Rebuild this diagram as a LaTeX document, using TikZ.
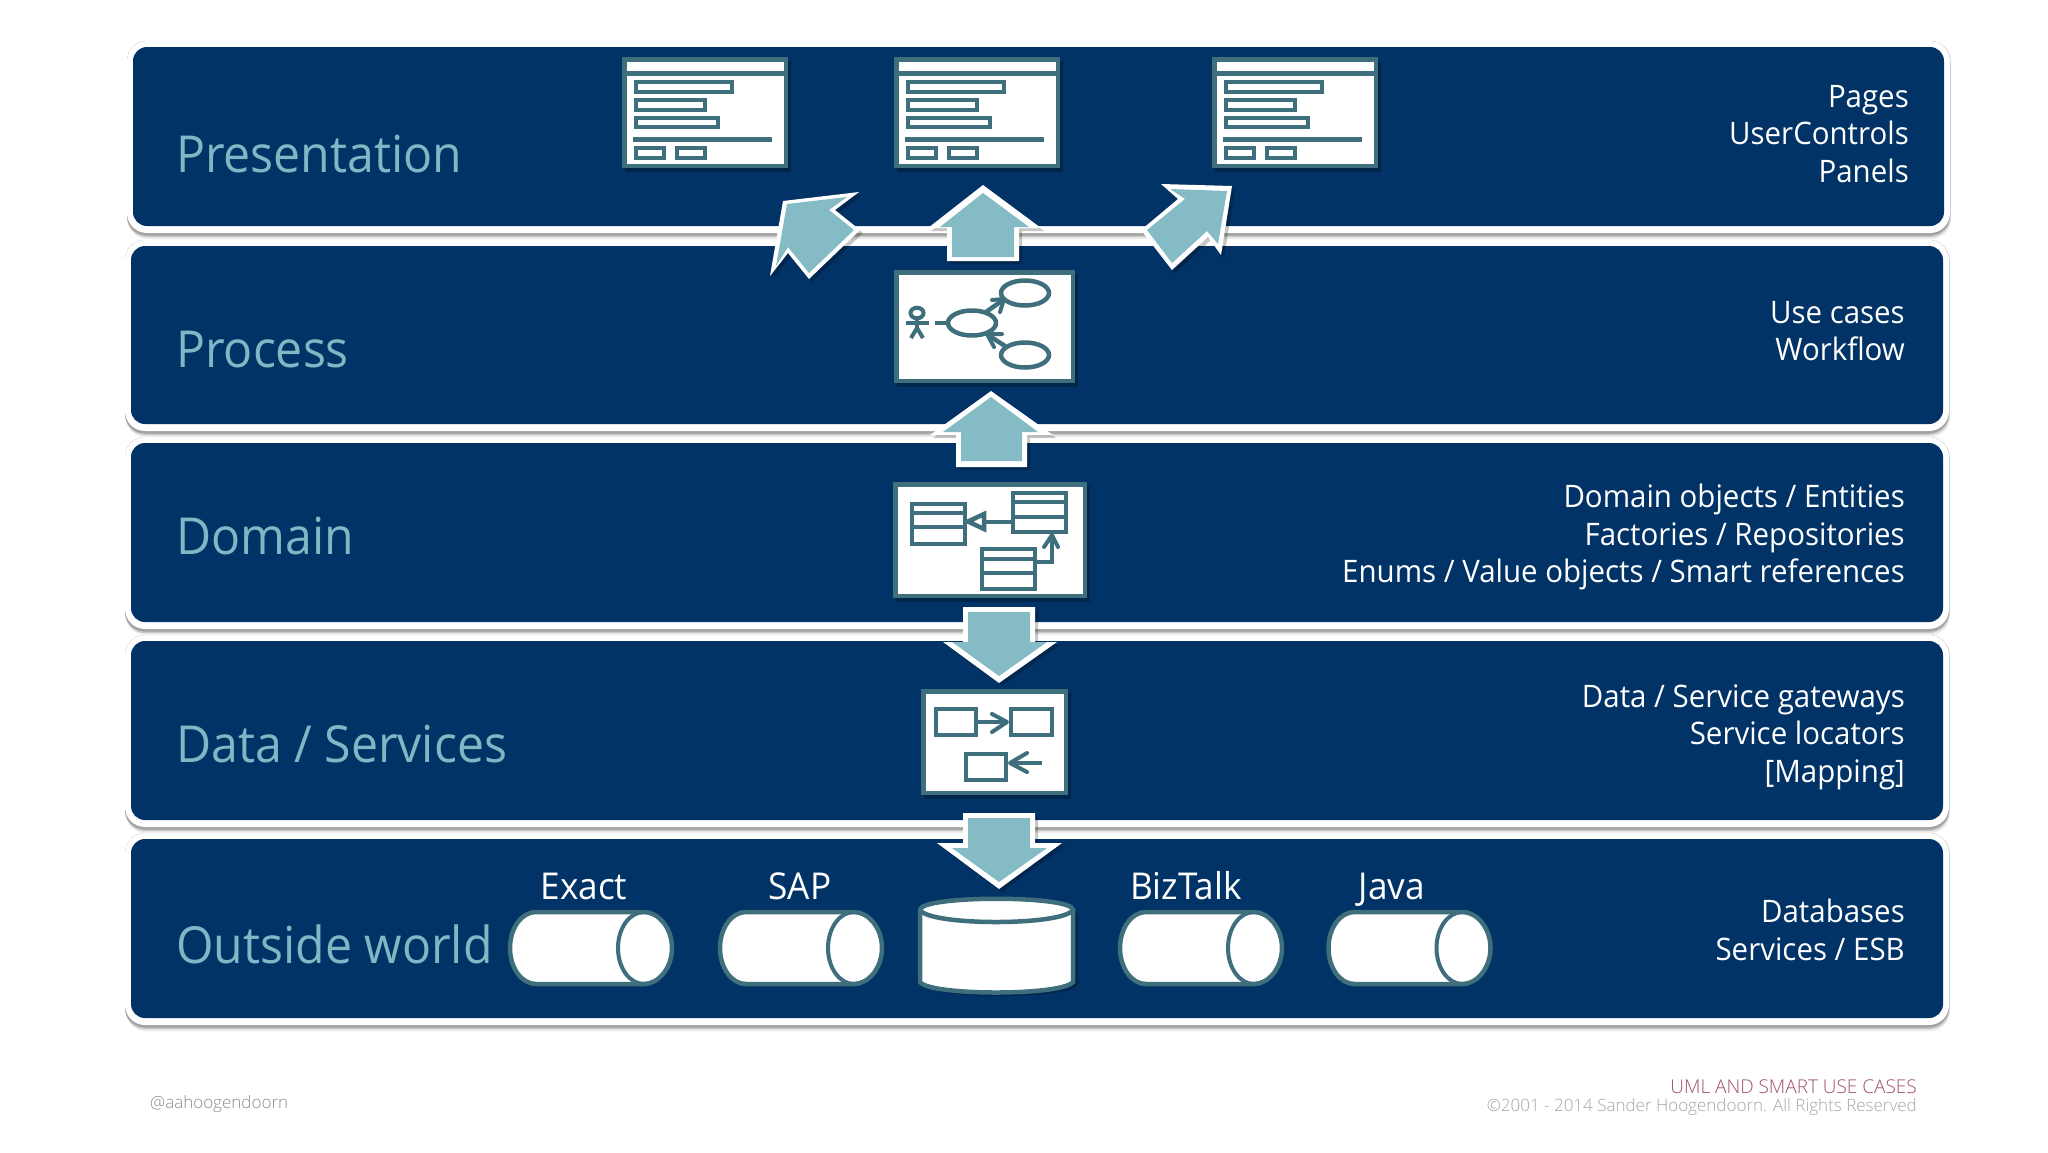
\documentclass[tikz,border=0pt]{standalone}
\usepackage{fontspec}
\setmainfont{Open Sans}
\newfontfamily\segoe{Open Sans}[FakeStretch=0.95]
\newfontfamily\segoetitle{Open Sans}[FakeStretch=0.945]
\newfontfamily\foot{Open Sans Light}
\definecolor{navy}{HTML}{023366}
\definecolor{tealline}{HTML}{3F6F7C}
\definecolor{arrowfill}{HTML}{84BBC4}
\definecolor{titletxt}{HTML}{7FB8C4}
\definecolor{umlred}{HTML}{A0506E}
\definecolor{shadowgrey}{HTML}{A59F9F}
\newcommand{\band}[4]{%
  \fill[rounded corners=20pt,black!8] (#1-5,#2-5) rectangle (#3+7,#4+13);
  \fill[rounded corners=20pt,black!22] (#1-6,#2-6) rectangle (#3+6.5,#4+11);
  \fill[rounded corners=20pt,shadowgrey] (#1-6,#2-6) rectangle (#3+6,#4+9.5);
  \fill[rounded corners=20pt,white] (#1-6,#2-6) rectangle (#3+6,#4+7);
  \fill[rounded corners=14pt,navy] (#1,#2) rectangle (#3,#4);}
\newcommand{\blockarrow}[2]{%
  \fill[black,opacity=.22,shift={(3,3)}] #1 -- cycle;
  \fill[white] #1 -- cycle;
  \fill[arrowfill] #2 -- cycle;}
\tikzset{
  x=1pt,y=-1pt,
  tl/.style={draw=tealline,line width=#1},
  tl/.default=4.5pt,
  soft/.style={fill=black,opacity=.25},
  tier/.style={anchor=base west,text=titletxt,font=\segoetitle\fontsize{51}{60}\selectfont,inner sep=0pt},
  roles/.style={anchor=east,align=right,text=white,font=\segoe\fontsize{31}{37.6}\selectfont,inner sep=0pt},
  sys/.style={anchor=base,text=white,font=\segoe\fontsize{37}{44}\selectfont,inner sep=0pt},
  head/.style={tl=4pt,line cap=round,line join=round},
  footer/.style={font=\foot\fontsize{#1}{22}\selectfont,inner sep=0pt},
  page/.pic={
    \fill[soft] (3,4) rectangle (169,115);
    \fill[tealline] (0,0) rectangle (166,111);
    \fill[white] (4.5,5) rectangle (161.5,107);
    \fill[tealline] (4.5,14) rectangle (161.5,19);
    \draw[tl=4pt,fill=white] (14,25) rectangle (110,35);
    \draw[tl=4pt,fill=white] (14,43) rectangle (83,53);
    \draw[tl=4pt,fill=white] (14,61) rectangle (96,70);
    \fill[tealline] (11,80) rectangle (150,85);
    \draw[tl=4pt,fill=white] (14,91) rectangle (42,101);
    \draw[tl=4pt,fill=white] (55,91) rectangle (83,101);
  },
  pipe/.pic={
    \draw[tl=4.5pt,fill=white] (28,912) .. controls (13.6,912) and (2,928) .. (2,948)
       .. controls (2,968) and (13.6,984) .. (28,984) -- (136,984)
       .. controls (150.4,984) and (164,968) .. (164,948)
       .. controls (164,928) and (150.4,912) .. (136,912) -- cycle;
    \draw[tl=4pt] (136,912) .. controls (121.6,912) and (110,928) .. (110,948)
       .. controls (110,968) and (121.6,984) .. (136,984);
  },
}
\begin{document}
\begin{tikzpicture}
\useasboundingbox (0,0) rectangle (2048,1152);
\fill[white] (0,0) rectangle (2048,1152);

% tiers
\band{133}{47}{1944}{226}
\band{131}{246}{1943}{424}
\band{131}{443}{1943}{622}
\band{131}{641}{1943}{820}
\band{131}{839}{1943}{1018}

\node[tier] (tPres) at (176,172) {Presentation};
\node[tier] (tProc) at (176,367) {Process};
\node[tier] (tDom) at (176,554) {Domain};
\node[tier] (tData) at (176,762) {Data / Services};
\node[tier] (tOut) at (176,963) {Outside world};

\node[roles] (rPres) at (1909,134) {Pages\\UserControls\\Panels};
\node[roles] (rProc) at (1905,331) {Use cases\\Workflow};
\node[roles] (rDom) at (1905,537) {Domain objects / Entities\\Factories / Repositories\\Enums / Value objects / Smart references};
\node[roles] (rData) at (1905,737) {Data / Service gateways\\Service locators\\{[Mapping]}};
\node[roles] (rOut) at (1905,930) {Databases\\Services / ESB};

% pages
\pic (pageA) at (622,57) {page};
\pic (pageB) at (894,57) {page};
\pic (pageC) at (1212,57) {page};

% arrows
\blockarrow{(783,201) -- (859,192) -- (835,210) -- (860,230) -- (809,279) -- (788,253) -- (770,276)}
  {(787,204) -- (847,197) -- (829,210) -- (854,230) -- (809,273) -- (788,247) -- (776,266)}
\blockarrow{(983,185) -- (1041,228) -- (1019,228) -- (1019,261) -- (947,261) -- (947,228) -- (928,228)}
  {(983,193) -- (1029,227) -- (1014,227) -- (1014,257) -- (952,257) -- (952,227) -- (940,227)}
\blockarrow{(1161,184) -- (1232,186) -- (1221,255) -- (1208,237) -- (1172,270) -- (1141,230) -- (1178,199)}
  {(1170,189) -- (1227,191) -- (1218,244) -- (1207,231) -- (1172,263) -- (1147,230) -- (1185,199)}
\blockarrow{(991,391) -- (1053,435) -- (1027,435) -- (1027,467) -- (956,467) -- (956,435) -- (930,435)}
  {(991,397) -- (1038,432) -- (1022,432) -- (1022,461) -- (961,461) -- (961,432) -- (943,432)}
\blockarrow{(963,607) -- (1035,607) -- (1035,642) -- (1057,642) -- (999,683) -- (943,642) -- (963,642)}
  {(968,612) -- (1030,612) -- (1030,642) -- (1047,642) -- (999,676) -- (952,642) -- (968,642)}
\blockarrow{(963,813) -- (1035,813) -- (1035,843) -- (1062,843) -- (999,889) -- (937,843) -- (963,843)}
  {(968,818) -- (1030,818) -- (1030,848) -- (1047,848) -- (999,882) -- (952,848) -- (968,848)}

% use case box
\fill[soft] (897,274) rectangle (1078,387);
\fill[tealline] (894,270) rectangle (1075,383);
\fill[white] (898.5,274.5) rectangle (1070.5,378.5);
\draw[tl=4pt] (917,313) ellipse [x radius=6.5pt,y radius=5.3pt];
\draw[tl=4.5pt] (906,323) -- (929,323) (917,318) -- (917,330);
\draw[tl=4pt] (911,338) -- (917,328) -- (923,338);
\draw[tl=4.5pt] (935,323) -- (947,323);
\draw[tl=4.5pt] (972,323) ellipse [x radius=24pt,y radius=12.5pt];
\draw[tl=4.5pt] (1025,293) ellipse [x radius=24pt,y radius=12.5pt];
\draw[tl=4.5pt] (1025,355) ellipse [x radius=24pt,y radius=12.5pt];
\draw[tl=4.5pt] (986,312) -- (1003,300);
\draw[head] (992,300) -- (1004,299) -- (1000,312);
\draw[tl=4.5pt] (1005,346) -- (988,335);
\draw[head] (1002,334) -- (987,334) -- (994,347);

% domain box
\fill[soft] (896,486) rectangle (1090,602);
\fill[tealline] (893,482) rectangle (1087,598);
\fill[white] (897.5,486.5) rectangle (1082.5,593.5);
\draw[tl=4.5pt,fill=white] (912,504) rectangle (965,544);
\draw[tl=4pt] (912,513) -- (965,513) (912,527) -- (965,527);
\draw[tl=4.5pt,fill=white] (1013,493) rectangle (1066,532);
\draw[tl=4pt] (1013,502) -- (1066,502) (1013,517) -- (1066,517);
\draw[tl=4.5pt,fill=white] (982,549) rectangle (1035,589);
\draw[tl=4pt] (982,559) -- (1035,559) (982,573) -- (1035,573);
\draw[tl=4.5pt] (984,522) -- (1011,522);
\draw[tl=4.5pt,miter limit=10,fill=white] (984,514) -- (968,521.5) -- (984,529) -- cycle;
\draw[tl=4.5pt] (1037,562) -- (1052,562) -- (1052,536);
\draw[head] (1044,547) -- (1052,535) -- (1058,547);

% data box
\fill[soft] (924,693) rectangle (1071,799);
\fill[tealline] (921,689) rectangle (1068,795);
\fill[white] (925.5,694) rectangle (1063.5,790.5);
\draw[tl=4.5pt] (936,709) rectangle (976,735);
\draw[tl=4.5pt] (1011,709) rectangle (1052,735);
\draw[tl=4.5pt] (966,754) rectangle (1006,780);
\draw[tl=4.5pt] (978,722) -- (1007,722);
\draw[head] (992,714) -- (1007,722) -- (992,732);
\draw[tl=4.5pt] (1042,763) -- (1010,763);
\draw[head] (1027,753) -- (1010,763) -- (1027,772);

% outside world
\node[sys] (sExact) at (584,899) {Exact};
\node[sys] (sSap) at (800,899) {SAP};
\node[sys] (sBiz) at (1186,899) {BizTalk};
\node[sys] (sJava) at (1392,899) {Java};
\pic (pipeA) at (508,0) {pipe};
\pic (pipeB) at (718,0) {pipe};
\pic (pipeC) at (1118,0) {pipe};
\pic (pipeD) at (1326.5,0) {pipe};

\fill[soft] (924,915) .. controls (924,904) and (1078,904) .. (1078,915) -- (1078,984) .. controls (1078,1000) and (924,1000) .. (924,984) -- cycle;
\draw[tl=4.5pt,fill=white] (920,910) -- (920,982) .. controls (930,996) and (1062,996) .. (1073,982) -- (1073,910) .. controls (1073,895) and (920,895) .. (920,910) -- cycle;
\draw[tl=4.5pt] (920,910) .. controls (930,926) and (1062,926) .. (1073,910);

% footer
\node[footer=17,anchor=base west,text=black!45] (fHandle) at (150,1108) {@aahoogendoorn};
\node[footer=19,anchor=base east,text=umlred] (fUml) at (1917,1093) {UML AND SMART USE CASES};
\node[footer=17,anchor=base east,text=black!35] (fCopy) at (1917,1111) {©2001 - 2014 Sander Hoogendoorn. All Rights Reserved};
\end{tikzpicture}
\end{document}
